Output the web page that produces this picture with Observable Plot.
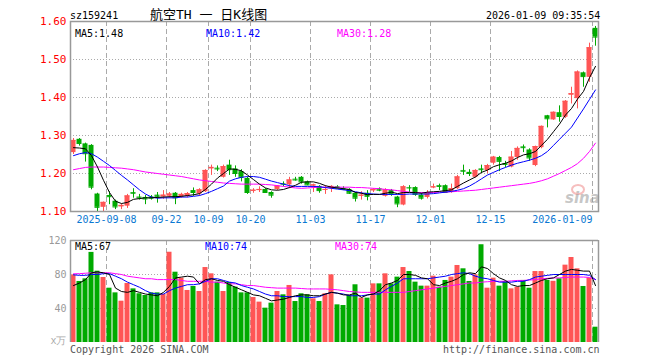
<!DOCTYPE html>
<html><head><meta charset="utf-8">
<script src="https://cdn.jsdelivr.net/npm/d3@7"></script>
<script src="https://cdn.jsdelivr.net/npm/@observablehq/plot@0.6"></script>
<style>
body{margin:0;background:#fff;}
#wrap{position:relative;width:660px;height:360px;overflow:hidden;font-family:"DejaVu Sans Mono",monospace;}
.t{position:absolute;font-size:10px;white-space:pre;line-height:10px;}
.p{position:absolute;left:0;}
</style></head><body>
<div id="wrap"></div>
<script>
// ---- data ----
const code = "sz159241";
const title = "航空TH 一 日K线图";
const stamp = "2026-01-09 09:35:54";
const tickIdx = [6, 16, 23, 30, 40, 50, 60, 70, 87];
const tickLabels = ["2025-09-08","09-22","10-09","10-20","11-03","11-17","12-01","12-15","2026-01-09"];
const priceTicks = [1.10, 1.20, 1.30, 1.40, 1.50, 1.60];
const volTicks = [40, 80, 120];

const open = [1.255,1.290,1.278,1.274,1.146,1.111,1.142,1.127,1.112,1.114,
1.150,1.138,1.137,1.138,1.143,1.138,1.140,1.148,1.138,1.140,
1.155,1.146,1.152,1.212,1.214,1.190,1.222,1.212,1.205,1.187,
1.153,1.155,1.158,1.150,1.158,1.173,1.170,1.185,1.190,1.178,
1.167,1.166,1.156,1.160,1.165,1.160,1.158,1.148,1.140,1.148,
1.154,1.160,1.140,1.155,1.138,1.117,1.163,1.163,1.143,1.137,
1.162,1.168,1.168,1.152,1.160,1.208,1.203,1.190,1.212,1.208,
1.227,1.242,1.226,1.217,1.242,1.270,1.262,1.221,1.268,1.352,
1.341,1.360,1.348,1.406,1.397,1.465,1.453,1.582];
const high = [1.292,1.292,1.280,1.276,1.148,1.125,1.152,1.130,1.120,1.145,
1.160,1.145,1.142,1.142,1.150,1.155,1.150,1.150,1.148,1.150,
1.162,1.160,1.210,1.222,1.220,1.222,1.235,1.220,1.210,1.190,
1.160,1.165,1.160,1.152,1.168,1.178,1.190,1.190,1.192,1.180,
1.172,1.168,1.168,1.168,1.168,1.165,1.160,1.150,1.152,1.155,
1.160,1.162,1.160,1.158,1.140,1.168,1.168,1.165,1.148,1.155,
1.172,1.172,1.170,1.172,1.195,1.222,1.210,1.210,1.222,1.224,
1.245,1.245,1.232,1.258,1.270,1.275,1.265,1.272,1.325,1.353,
1.362,1.378,1.392,1.427,1.470,1.467,1.543,1.587];
const low = [1.250,1.272,1.230,1.157,1.099,1.099,1.118,1.105,1.105,1.108,
1.135,1.130,1.118,1.130,1.122,1.132,1.135,1.118,1.135,1.136,
1.140,1.140,1.150,1.195,1.205,1.188,1.195,1.190,1.178,1.145,
1.148,1.150,1.148,1.135,1.155,1.165,1.160,1.180,1.172,1.168,
1.150,1.148,1.145,1.150,1.160,1.155,1.145,1.125,1.130,1.128,
1.150,1.152,1.138,1.140,1.110,1.115,1.150,1.140,1.130,1.133,
1.160,1.155,1.152,1.148,1.158,1.195,1.192,1.188,1.200,1.200,
1.222,1.205,1.215,1.215,1.235,1.255,1.232,1.218,1.265,1.320,
1.340,1.335,1.345,1.383,1.370,1.427,1.440,1.535];
const close = [1.287,1.279,1.252,1.164,1.111,1.124,1.139,1.112,1.116,1.141,
1.148,1.136,1.133,1.135,1.140,1.143,1.146,1.136,1.145,1.147,
1.150,1.157,1.208,1.216,1.212,1.218,1.210,1.200,1.190,1.150,
1.156,1.158,1.150,1.143,1.167,1.172,1.183,1.183,1.178,1.170,
1.170,1.155,1.158,1.166,1.162,1.158,1.148,1.135,1.143,1.140,
1.158,1.156,1.157,1.145,1.120,1.165,1.162,1.145,1.135,1.147,
1.165,1.166,1.150,1.160,1.191,1.206,1.200,1.208,1.210,1.221,
1.243,1.232,1.224,1.243,1.266,1.268,1.241,1.271,1.324,1.344,
1.361,1.350,1.390,1.410,1.467,1.455,1.531,1.559];
const volume = [79.6,71.8,74.9,106,83.9,76.5,63.9,58.4,48.6,69.4,
63.1,57.3,55.3,58.4,58.4,56.5,106.2,82.7,75.7,61.2,
65.9,60,88.2,80.8,71,60,70.6,65.1,58.4,58.4,
52.9,47.5,40.4,46.3,60,56.1,67.1,48.2,57.3,56.1,
51.4,48.2,57.3,79.6,44.3,43.5,55.3,67.9,52.2,52.2,
69,69,80.8,69,76.9,88.2,83.5,71,66.3,66.3,
78,65.1,73,76.9,90.6,86.7,71.8,79.6,115,63.9,
75.7,66.3,71.8,63.1,65,73,63.9,83.5,83.5,73,
72,75,91,100,86.7,65.9,75.7,18];
const ma5 = [1.268,1.267,1.265,1.247,1.217,1.182,1.150,1.127,1.121,1.124,
1.132,1.134,1.136,1.136,1.137,1.138,1.139,1.139,1.140,1.142,
1.144,1.147,1.158,1.172,1.188,1.200,1.212,1.211,1.207,1.196,
1.184,1.172,1.162,1.157,1.156,1.158,1.163,1.169,1.177,1.178,
1.178,1.174,1.168,1.164,1.162,1.160,1.158,1.150,1.148,1.144,
1.145,1.145,1.148,1.151,1.147,1.150,1.150,1.150,1.148,1.151,
1.152,1.153,1.155,1.157,1.166,1.175,1.183,1.191,1.203,1.209,
1.218,1.223,1.227,1.233,1.242,1.249,1.252,1.258,1.274,1.290,
1.310,1.330,1.354,1.371,1.396,1.416,1.452,1.482];
const ma10 = [1.247,1.252,1.255,1.252,1.243,1.232,1.221,1.208,1.195,1.183,
1.170,1.157,1.146,1.138,1.135,1.136,1.136,1.136,1.138,1.138,
1.140,1.142,1.147,1.153,1.160,1.167,1.180,1.186,1.190,1.192,
1.192,1.190,1.185,1.180,1.176,1.172,1.168,1.166,1.166,1.166,
1.166,1.165,1.163,1.161,1.159,1.157,1.155,1.152,1.149,1.147,
1.146,1.145,1.145,1.145,1.145,1.145,1.146,1.146,1.146,1.146,
1.147,1.149,1.151,1.153,1.156,1.160,1.167,1.176,1.186,1.196,
1.203,1.210,1.216,1.222,1.227,1.231,1.235,1.240,1.247,1.258,
1.274,1.290,1.306,1.322,1.346,1.370,1.395,1.420];
const ma30 = [1.210,1.213,1.216,1.217,1.217,1.217,1.216,1.215,1.214,1.212,
1.210,1.207,1.204,1.202,1.200,1.198,1.196,1.194,1.192,1.189,
1.186,1.183,1.181,1.179,1.177,1.175,1.174,1.173,1.172,1.172,
1.172,1.172,1.171,1.170,1.168,1.166,1.164,1.162,1.161,1.162,
1.163,1.164,1.164,1.164,1.164,1.164,1.164,1.163,1.163,1.162,
1.161,1.160,1.158,1.157,1.155,1.153,1.151,1.150,1.150,1.150,
1.150,1.151,1.151,1.152,1.153,1.154,1.155,1.156,1.158,1.160,
1.162,1.164,1.166,1.168,1.170,1.172,1.174,1.177,1.181,1.186,
1.193,1.200,1.208,1.216,1.226,1.240,1.258,1.280];
const vma5 = [67,70,74,82,83,82,80,64,60,59,
61,59,57,56,55,59,66,76,77,78,
77,69,74,75,73,72,68,65,62,59,
56,55,52,49,50,51,53,55,56,56,
55,55,57,59,58,56,56,58,53,56,
57,61,68,70,73,80,80,79,76,75,
68,67,70,72,75,80,82,81,89,87,
81,76,73,68,66,67,67,70,73,75,
76,80,84,86,85,84,84,67];
const vma10 = [79.6,79,79,80,80,81,81,78,75,71,
68,65,61,58,57,57,61,64,66,68,
68,69,72,75,75,73,71,70,67,65,
63,60,57,55,55,54,54,54,54,53,
53,54,57,59,58,57,55,55,55,56,
57,57,62,66,70,75,75,75,75,75,
76,77,78,80,81,82,81,78,76,75,
73,71,71,71,72,72,74,77,78,79,
80,80,80,80,80,80,79,74];
const vma30 = [80.8,81,81.5,82,82,82,82,81,80,78,
77,76,75,75,74,74,74,74,73,72,
72,72,72,71,71,70,69,69,68,67,
67,66,65,64.5,64,64,64,64,63.5,63,
63,63,63,62.5,62,61,60,59.5,59,59,
59,59,59,59,59,59,60,61,62,63,
64,65,66,67,68,69,70,70,71,71.5,
72,72,72,72.5,73,73,73.5,74,75,75.5,
76,76,76.5,77,77,77,76.5,74];

// ---- drawing ----
const RED = "#ff5555", GREEN = "#00aa00", GRID = "#aaaaaa", FRAME = "#999999", BLUE = "#0000ff", MAG = "#ff00ff";
const N = close.length;
const idx = d3.range(N);
const up = i => close[i] >= open[i];
const col = i => up(i) ? RED : GREEN;
const font = "DejaVu Sans Mono, monospace";
const wrap = document.getElementById("wrap");

function addText(txt, css) {
  const d = document.createElement("div");
  d.className = "t";
  d.textContent = txt;
  Object.assign(d.style, css);
  wrap.appendChild(d);
}

const topPlot = Plot.plot({
  width: 660, height: 230,
  marginLeft: 70, marginRight: 62, marginTop: 21, marginBottom: 19,
  x: {domain: [0, N], axis: null},
  y: {domain: [1.10, 1.60], axis: null},
  style: {fontFamily: font, fontSize: "10px", background: "transparent", overflow: "visible"},
  marks: [
    Plot.ruleY(priceTicks.slice(1, -1), {stroke: GRID, strokeDasharray: "1,2"}),
    Plot.ruleX(tickIdx, {stroke: GRID, strokeDasharray: "5,3"}),
    Plot.ruleX(idx, {x: i => i + 0.5, y1: i => low[i], y2: i => high[i], stroke: col}),
    Plot.rect(idx, {x1: i => i, x2: i => i + 1, y1: i => open[i], y2: i => close[i], insetLeft: 0.5, insetRight: 0.5, fill: col}),
    Plot.ruleY(idx, {x1: i => i + 0.083, x2: i => i + 0.917, y: i => close[i], stroke: col}),
    Plot.line(idx, {x: i => i + 0.5, y: i => ma30[i], stroke: MAG, strokeWidth: 1}),
    Plot.line(idx, {x: i => i + 0.5, y: i => ma10[i], stroke: BLUE, strokeWidth: 1}),
    Plot.line(idx, {x: i => i + 0.5, y: i => ma5[i], stroke: "black", strokeWidth: 1}),
    Plot.frame({stroke: FRAME, strokeWidth: 1.5}),
    Plot.text(priceTicks, {y: d => d, frameAnchor: "left", dx: -4, textAnchor: "end", text: d => d.toFixed(2), fill: "#ff0000", fontSize: 11, letterSpacing: "0.9px"}),
    Plot.text(tickIdx.slice(0, -1), {x: d => d, frameAnchor: "bottom", dy: 11, text: (d, i) => tickLabels[i], fill: "#0a78d2", fontSize: 10}),
    Plot.text(tickIdx.slice(-1), {x: d => d, frameAnchor: "bottom", dy: 11, textAnchor: "end", text: () => tickLabels[tickLabels.length - 1], fill: "#0a78d2", fontSize: 10})
  ]
});
topPlot.classList.add("p");
topPlot.style.top = "0px";
wrap.appendChild(topPlot);

const volPlot = Plot.plot({
  width: 660, height: 130,
  marginLeft: 70, marginRight: 62, marginTop: 10, marginBottom: 18,
  x: {domain: [0, N], axis: null},
  y: {domain: [0, 120], axis: null},
  style: {fontFamily: font, fontSize: "10px", background: "transparent", overflow: "visible"},
  marks: [
    Plot.ruleY([40, 80], {stroke: GRID, strokeDasharray: "1,2"}),
    Plot.ruleX(tickIdx, {stroke: GRID, strokeDasharray: "5,3"}),
    Plot.rect(idx, {x1: i => i, x2: i => i + 1, y1: 0, y2: i => volume[i], insetLeft: 0.5, insetRight: 0.5, fill: col}),
    Plot.line(idx, {x: i => i + 0.5, y: i => vma30[i], stroke: MAG, strokeWidth: 1}),
    Plot.line(idx, {x: i => i + 0.5, y: i => vma10[i], stroke: BLUE, strokeWidth: 1}),
    Plot.line(idx, {x: i => i + 0.5, y: i => vma5[i], stroke: "black", strokeWidth: 1}),
    Plot.ruleX([0, N], {y1: 0, y2: 120, stroke: FRAME, strokeWidth: 1.5}),
    Plot.ruleY([120], {stroke: FRAME, strokeWidth: 1.5}),
    Plot.text(volTicks, {y: d => d, frameAnchor: "left", dx: -4, textAnchor: "end", text: d => String(d), fill: "#999999", fontSize: 10}),
    Plot.text(["x万"], {y: 0, frameAnchor: "left", dx: -4, dy: -2, textAnchor: "end", text: d => d, fill: "#aaaaaa", fontSize: 10})
  ]
});
volPlot.classList.add("p");
volPlot.style.top = "230px";
wrap.appendChild(volPlot);

// header / legends / footer
addText(code, {left: "70px", top: "11px"});
addText(title, {left: "150px", top: "8px", fontSize: "13px", lineHeight: "14px", fontFamily: "DejaVu Sans Mono, 'Noto Sans CJK SC'"});
addText(stamp, {left: "486px", top: "11px"});
addText("MA5:" + ma5[N - 1].toFixed(2), {left: "75px", top: "29px", color: "black"});
addText("MA10:" + ma10[N - 1].toFixed(2), {left: "206px", top: "29px", color: BLUE});
addText("MA30:" + ma30[N - 1].toFixed(2), {left: "337px", top: "29px", color: MAG});
addText("MA5:" + Math.round(vma5[N - 1]), {left: "75px", top: "242px", color: "black"});
addText("MA10:" + Math.round(vma10[N - 1]), {left: "205px", top: "242px", color: BLUE});
addText("MA30:" + Math.round(vma30[N - 1]), {left: "335px", top: "242px", color: MAG});
addText("Copyright 2026 SINA.COM", {left: "70px", top: "345px", color: "#555"});
addText("http://finance.sina.com.cn", {left: "443px", top: "345px", color: "#555"});
// watermark logo
const eye = document.createElement("div");
Object.assign(eye.style, {position: "absolute", left: "571px", top: "184px", width: "10px", height: "7px", border: "2px solid rgba(235,110,110,0.45)", borderRadius: "50%"});
wrap.appendChild(eye);
addText("sina", {left: "565px", top: "191px", fontSize: "15px", lineHeight: "15px", fontWeight: "bold", fontStyle: "italic", fontFamily: "DejaVu Sans, sans-serif", color: "rgba(150,150,150,0.55)"});
</script>
</body></html>
